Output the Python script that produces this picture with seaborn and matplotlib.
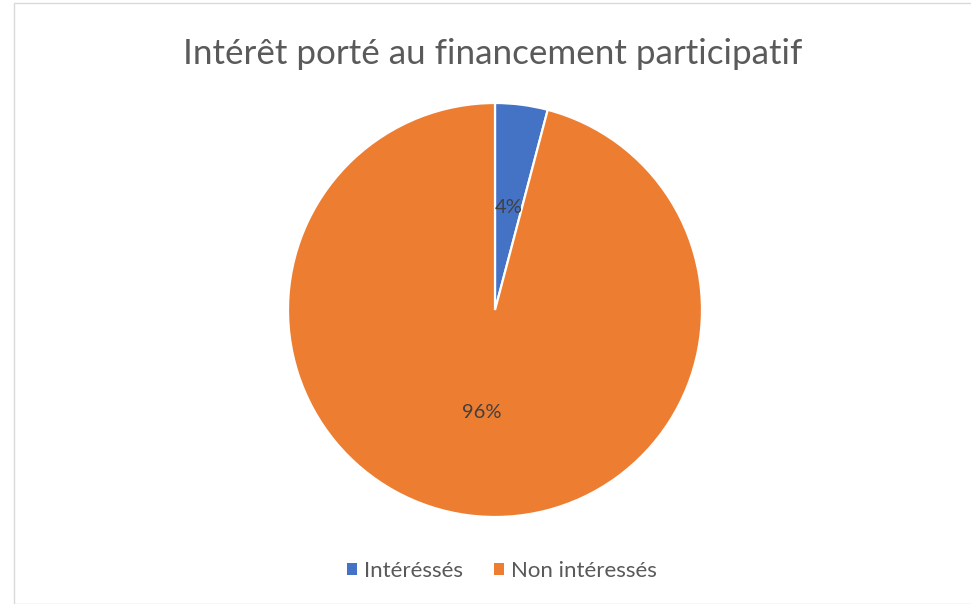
import matplotlib.pyplot as plt
import seaborn as sns
from matplotlib.patches import Rectangle, Patch

# Data
categories = ['Intéréssés', 'Non intéressés']
shares = [4.1, 95.9]
colors = ['#4472C4', '#ED7D31']
title = 'Intérêt porté au financement participatif'

sns.set_theme(style="white")
plt.rcParams['font.family'] = ['Lato', 'DejaVu Sans']

fig = plt.figure(figsize=(9.71, 6.04), dpi=100)

# chart border
fig.patches.append(Rectangle((14 / 971, 0), 960 / 971, 601 / 604,
                             transform=fig.transFigure, fill=False,
                             edgecolor='#D9D9D9', linewidth=1))

ax = fig.add_axes([288 / 971, 87 / 604, 414 / 971, 414 / 604])
wedges, texts, autotexts = ax.pie(
    shares,
    colors=colors,
    startangle=90,
    counterclock=False,
    autopct='%.0f%%',
    pctdistance=0.5,
    wedgeprops=dict(edgecolor='white', linewidth=1.6),
    textprops=dict(color='#404040', fontsize=14.5),
)
ax.set_xlim(-1.0, 1.0)
ax.set_ylim(-1.0, 1.0)
ax.set_aspect('equal')

fig.text(493 / 971, 1 - 54 / 604, title, ha='center', va='center',
         fontsize=25.2, color='#5a5a5a')

handles = [Patch(facecolor=c, edgecolor='none') for c in colors]
fig.legend(handles, categories, loc='center', bbox_to_anchor=(502 / 971, 1 - 571 / 604),
           ncol=2, frameon=False, fontsize=16, labelcolor='#595959',
           handlelength=0.45, handleheight=0.45, handletextpad=0.3, columnspacing=1.4)

fig.savefig('out.png', dpi=100)
